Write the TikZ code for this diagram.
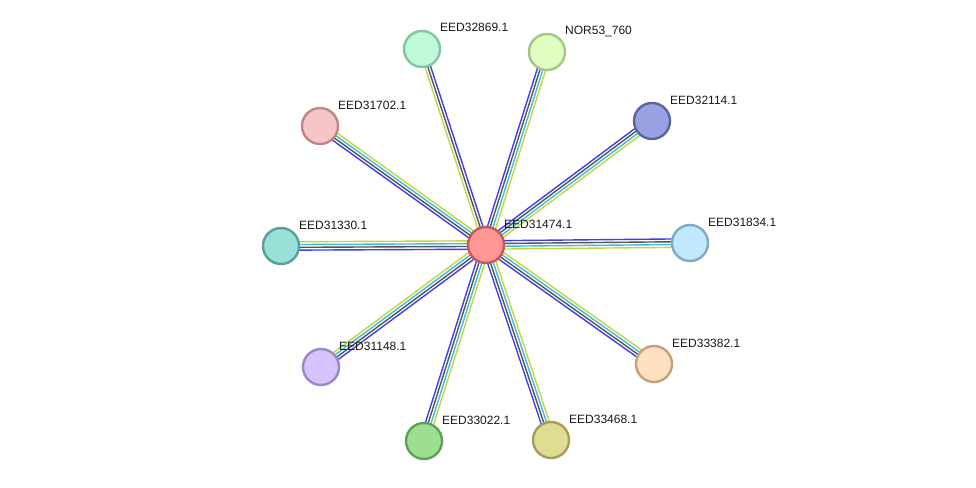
\documentclass[tikz,border=0pt]{standalone}
\usepackage{fontspec}
\setmainfont{Liberation Sans}
\usetikzlibrary{calc}
\pgfdeclarelayer{bg}
\pgfdeclarelayer{edges}
\pgfsetlayers{bg,edges,main}

% evidence channel colours
\definecolor{linkblue}{HTML}{3D3DF2}
\definecolor{linkgray}{HTML}{555555}
\definecolor{linkcyan}{HTML}{3DBCDC}
\definecolor{linkyellow}{HTML}{C3D640}

\tikzset{
  prot/.style={circle, draw, line width=2.4pt, inner sep=0pt, minimum size=36pt},
  plabel/.style={anchor=base west, inner sep=0pt, font=\fontsize{12}{14}\selectfont, text=black!90},
  link/.style={line width=1.4pt},
}

% four parallel channel lines between two nodes
\newcommand\linkfour[2]{%
  \foreach \c/\o in {linkblue/4.2, linkgray/1.4, linkcyan/-1.4, linkyellow/-4.2}{%
    \draw[\c, link] ($(#1)!\o pt!90:(#2)$) -- ($(#2)!\o pt!-90:(#1)$);
  }}
% three parallel channel lines (no database channel)
\newcommand\linkthree[2]{%
  \foreach \c/\o in {linkblue/2.8, linkgray/0, linkyellow/-2.8}{%
    \draw[\c, link] ($(#1)!\o pt!90:(#2)$) -- ($(#2)!\o pt!-90:(#1)$);
  }}

\begin{document}
\begin{tikzpicture}[x=1pt, y=-1pt]
\begin{pgfonlayer}{bg}
  \fill[white] (0,0) rectangle (976,487);
\end{pgfonlayer}
\useasboundingbox (0,0) rectangle (976,487);

% proteins
\node[prot, fill={rgb,255:red,255;green,150;blue,150}, draw={rgb,255:red,194;green,90;blue,90}] (c) at (486,245) {};
\node[prot, fill={rgb,255:red,192;green,249;blue,216}, draw={rgb,255:red,132;green,196;blue,160}] (p32869) at (422,49) {};
\node[prot, fill={rgb,255:red,225;green,255;blue,192}, draw={rgb,255:red,165;green,197;blue,129}] (pnor) at (547,52) {};
\node[prot, fill={rgb,255:red,153;green,163;blue,227}, draw={rgb,255:red,91;green,100;blue,160}] (p32114) at (652,121) {};
\node[prot, fill={rgb,255:red,246;green,198;blue,198}, draw={rgb,255:red,193;green,134;blue,134}] (p31702) at (320,126) {};
\node[prot, fill={rgb,255:red,152;green,224;blue,216}, draw={rgb,255:red,92;green,158;blue,150}] (p31330) at (281,246) {};
\node[prot, fill={rgb,255:red,193;green,232;blue,252}, draw={rgb,255:red,128;green,170;blue,196}] (p31834) at (690,243) {};
\node[prot, fill={rgb,255:red,213;green,195;blue,251}, draw={rgb,255:red,154;green,135;blue,196}] (p31148) at (321,367) {};
\node[prot, fill={rgb,255:red,158;green,222;blue,144}, draw={rgb,255:red,96;green,160;blue,86}] (p33022) at (424,441) {};
\node[prot, fill={rgb,255:red,224;green,220;blue,146}, draw={rgb,255:red,163;green,159;blue,90}] (p33468) at (551,440) {};
\node[prot, fill={rgb,255:red,253;green,224;blue,192}, draw={rgb,255:red,196;green,161;blue,128}] (p33382) at (654,364) {};

% interactions
\begin{pgfonlayer}{edges}
  \linkfour{c}{pnor}
  \linkfour{c}{p31702}
  \linkfour{c}{p31148}
  \linkfour{c}{p31834}
  \linkfour{c}{p32114}
  \linkfour{c}{p31330}
  \linkfour{p33022}{c}
  \linkfour{p33468}{c}
  \linkfour{p33382}{c}
  \linkthree{p32869}{c}
\end{pgfonlayer}

% labels
\node[plabel] (lc) at ($(c)+(18,-17)$) {EED31474.1};
\node[plabel] (l32869) at ($(p32869)+(18,-17)$) {EED32869.1};
\node[plabel] (lnor) at ($(pnor)+(18,-17)$) {NOR53\_760};
\node[plabel] (l32114) at ($(p32114)+(18,-17)$) {EED32114.1};
\node[plabel] (l31702) at ($(p31702)+(18,-17)$) {EED31702.1};
\node[plabel] (l31330) at ($(p31330)+(18,-17)$) {EED31330.1};
\node[plabel] (l31834) at ($(p31834)+(18,-17)$) {EED31834.1};
\node[plabel] (l31148) at ($(p31148)+(18,-17)$) {EED31148.1};
\node[plabel] (l33022) at ($(p33022)+(18,-17)$) {EED33022.1};
\node[plabel] (l33468) at ($(p33468)+(18,-17)$) {EED33468.1};
\node[plabel] (l33382) at ($(p33382)+(18,-17)$) {EED33382.1};
\end{tikzpicture}
\end{document}
